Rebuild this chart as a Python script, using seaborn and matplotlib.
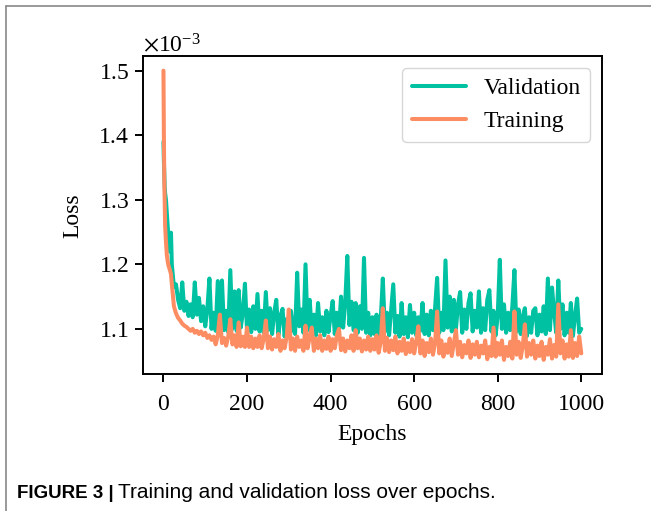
import pandas as pd
import seaborn as sns
import matplotlib.pyplot as plt
from matplotlib.lines import Line2D

# Loss values (units of 1e-3)
early_epochs = [0, 1, 2, 3, 4, 6, 8, 10, 12, 15, 18]
later_epochs = list(range(20, 1001, 5))
epochs = early_epochs + later_epochs

val_early = [1.39, 1.36, 1.34, 1.32, 1.31, 1.30, 1.28, 1.26, 1.24, 1.22, 1.249]
val_later = [
    1.200, 1.165, 1.169, 1.145, 1.132, 1.172,
    1.128, 1.142, 1.120, 1.138, 1.118, 1.172, 1.122, 1.148, 1.112, 1.135,
    1.104, 1.130, 1.178, 1.100, 1.125, 1.097, 1.174, 1.102, 1.175, 1.098,
    1.128, 1.095, 1.191, 1.100, 1.158, 1.097, 1.160, 1.102, 1.125, 1.170,
    1.098, 1.130, 1.095, 1.135, 1.100, 1.154, 1.096, 1.128, 1.094, 1.157,
    1.098, 1.132, 1.092, 1.125, 1.145, 1.090, 1.120, 1.131, 1.088, 1.115,
    1.094, 1.128, 1.100, 1.092, 1.187, 1.104, 1.130, 1.094, 1.200, 1.098,
    1.145, 1.094, 1.122, 1.090, 1.140, 1.096, 1.118, 1.090, 1.128, 1.095,
    1.120, 1.143, 1.092, 1.125, 1.097, 1.150, 1.102, 1.140, 1.213, 1.106,
    1.142, 1.098, 1.140, 1.094, 1.135, 1.100, 1.210, 1.094, 1.125, 1.090,
    1.118, 1.092, 1.122, 1.088, 1.115, 1.178, 1.096, 1.125, 1.090, 1.130,
    1.169, 1.094, 1.120, 1.088, 1.140, 1.092, 1.118, 1.087, 1.137, 1.094,
    1.125, 1.090, 1.118, 1.097, 1.140, 1.092, 1.122, 1.090, 1.128, 1.098,
    1.132, 1.179, 1.094, 1.125, 1.098, 1.206, 1.102, 1.150, 1.096, 1.145,
    1.100, 1.138, 1.157, 1.094, 1.130, 1.100, 1.140, 1.155, 1.096, 1.128,
    1.102, 1.158, 1.094, 1.132, 1.098, 1.145, 1.160, 1.096, 1.128, 1.090,
    1.120, 1.207, 1.100, 1.138, 1.094, 1.125, 1.098, 1.135, 1.191, 1.096,
    1.130, 1.092, 1.120, 1.132, 1.089, 1.118, 1.094, 1.128, 1.132, 1.090,
    1.122, 1.096, 1.135, 1.092, 1.178, 1.098, 1.164, 1.125, 1.094, 1.175,
    1.100, 1.138, 1.090, 1.125, 1.094, 1.140, 1.089, 1.120, 1.147, 1.094,
    1.100,
]

train_early = [1.50, 1.40, 1.33, 1.29, 1.26, 1.235, 1.215, 1.205, 1.198, 1.192, 1.185]
train_later = [
    1.170, 1.135, 1.124, 1.117, 1.113, 1.108,
    1.105, 1.103, 1.100, 1.097, 1.100, 1.094, 1.097, 1.092, 1.096, 1.090,
    1.094, 1.086, 1.090, 1.083, 1.088, 1.076, 1.090, 1.122, 1.078, 1.086,
    1.074, 1.088, 1.115, 1.076, 1.090, 1.072, 1.110, 1.073, 1.088, 1.072,
    1.102, 1.072, 1.088, 1.070, 1.085, 1.072, 1.090, 1.070, 1.085, 1.113,
    1.070, 1.088, 1.068, 1.084, 1.072, 1.092, 1.066, 1.082, 1.070, 1.088,
    1.130, 1.068, 1.085, 1.066, 1.088, 1.072, 1.082, 1.066, 1.105, 1.070,
    1.088, 1.102, 1.066, 1.085, 1.070, 1.090, 1.066, 1.082, 1.069, 1.088,
    1.066, 1.084, 1.070, 1.090, 1.100, 1.067, 1.085, 1.065, 1.082, 1.070,
    1.090, 1.066, 1.098, 1.070, 1.085, 1.065, 1.082, 1.068, 1.088, 1.066,
    1.084, 1.068, 1.090, 1.063, 1.080, 1.132, 1.066, 1.086, 1.064, 1.082,
    1.067, 1.088, 1.062, 1.080, 1.066, 1.085, 1.061, 1.078, 1.064, 1.084,
    1.062, 1.080, 1.104, 1.062, 1.082, 1.058, 1.078, 1.064, 1.085, 1.060,
    1.078, 1.127, 1.062, 1.082, 1.057, 1.076, 1.063, 1.085, 1.058, 1.078,
    1.098, 1.060, 1.080, 1.056, 1.075, 1.062, 1.082, 1.055, 1.076, 1.060,
    1.080, 1.056, 1.074, 1.062, 1.082, 1.053, 1.072, 1.058, 1.102, 1.057,
    1.078, 1.060, 1.082, 1.052, 1.072, 1.058, 1.080, 1.054, 1.127, 1.060,
    1.080, 1.055, 1.074, 1.107, 1.057, 1.078, 1.060, 1.082, 1.054, 1.074,
    1.058, 1.080, 1.052, 1.072, 1.060, 1.084, 1.054, 1.075, 1.057, 1.138,
    1.062, 1.082, 1.054, 1.076, 1.057, 1.098, 1.055, 1.078, 1.058, 1.088,
    1.062,
]

series_names = ['Validation', 'Training']
colors = ['#00C2A2', '#FC8D62']

val_loss = [v * 1e-3 for v in val_early + val_later]
train_loss = [v * 1e-3 for v in train_early + train_later]

df = pd.DataFrame({
    'Epochs': epochs * 2,
    'Loss': val_loss + train_loss,
    'Series': ['Validation'] * len(epochs) + ['Training'] * len(epochs),
})

sns.set_style('ticks')
plt.rcParams['font.family'] = ['Liberation Serif', 'DejaVu Serif']
plt.rcParams['mathtext.fontset'] = 'stix'
plt.rcParams['axes.edgecolor'] = 'black'
plt.rcParams['xtick.color'] = 'black'
plt.rcParams['ytick.color'] = 'black'
plt.rcParams['text.color'] = 'black'
plt.rcParams['axes.labelcolor'] = 'black'

fig = plt.figure(figsize=(6.51, 5.11), dpi=100)
ax = fig.add_axes([0.219, 0.2675, 0.706, 0.6225])

sns.lineplot(data=df, x='Epochs', y='Loss', hue='Series', hue_order=series_names,
             palette=dict(zip(series_names, colors)), estimator=None,
             linewidth=2.9, ax=ax)

ax.ticklabel_format(axis='y', style='sci', scilimits=(0, 0), useMathText=True)
ax.yaxis.get_offset_text().set_fontsize(17)
ax.set_xticks([0, 200, 400, 600, 800, 1000])
ax.tick_params(labelsize=17, width=1.4, length=6)
ax.tick_params(axis='x', pad=8)
for s in ax.spines.values():
    s.set_linewidth(1.4)
ax.set_xlabel('Epochs', fontsize=17, labelpad=7)
ax.set_ylabel('Loss', fontsize=17, labelpad=11)

leg = ax.legend(loc='upper right', fontsize=17, frameon=True, fancybox=True,
                handlelength=2.3, handletextpad=0.75, borderpad=0.4,
                labelspacing=0.5)
leg.get_frame().set_edgecolor('#cccccc')
for line in leg.get_lines():
    line.set_linewidth(2.9)

# caption and page border
cap_font = ['Liberation Sans Narrow', 'Liberation Sans']
head = fig.text(0.026, 0.025, 'FIGURE 3 |', fontsize=13.5, fontweight='bold',
                family=cap_font)
ax.annotate('Training and validation loss over epochs.', xy=(1, 0),
            xycoords=head, xytext=(3, 0), textcoords='offset points',
            fontsize=15, family=cap_font, va='bottom', ha='left',
            annotation_clip=False)
fig.add_artist(Line2D([0.009, 0.009], [0, 0.988], color='#888888', lw=1.2))
fig.add_artist(Line2D([0.009, 1], [0.988, 0.988], color='#888888', lw=1.2))

fig.savefig('out.png', dpi=100)
